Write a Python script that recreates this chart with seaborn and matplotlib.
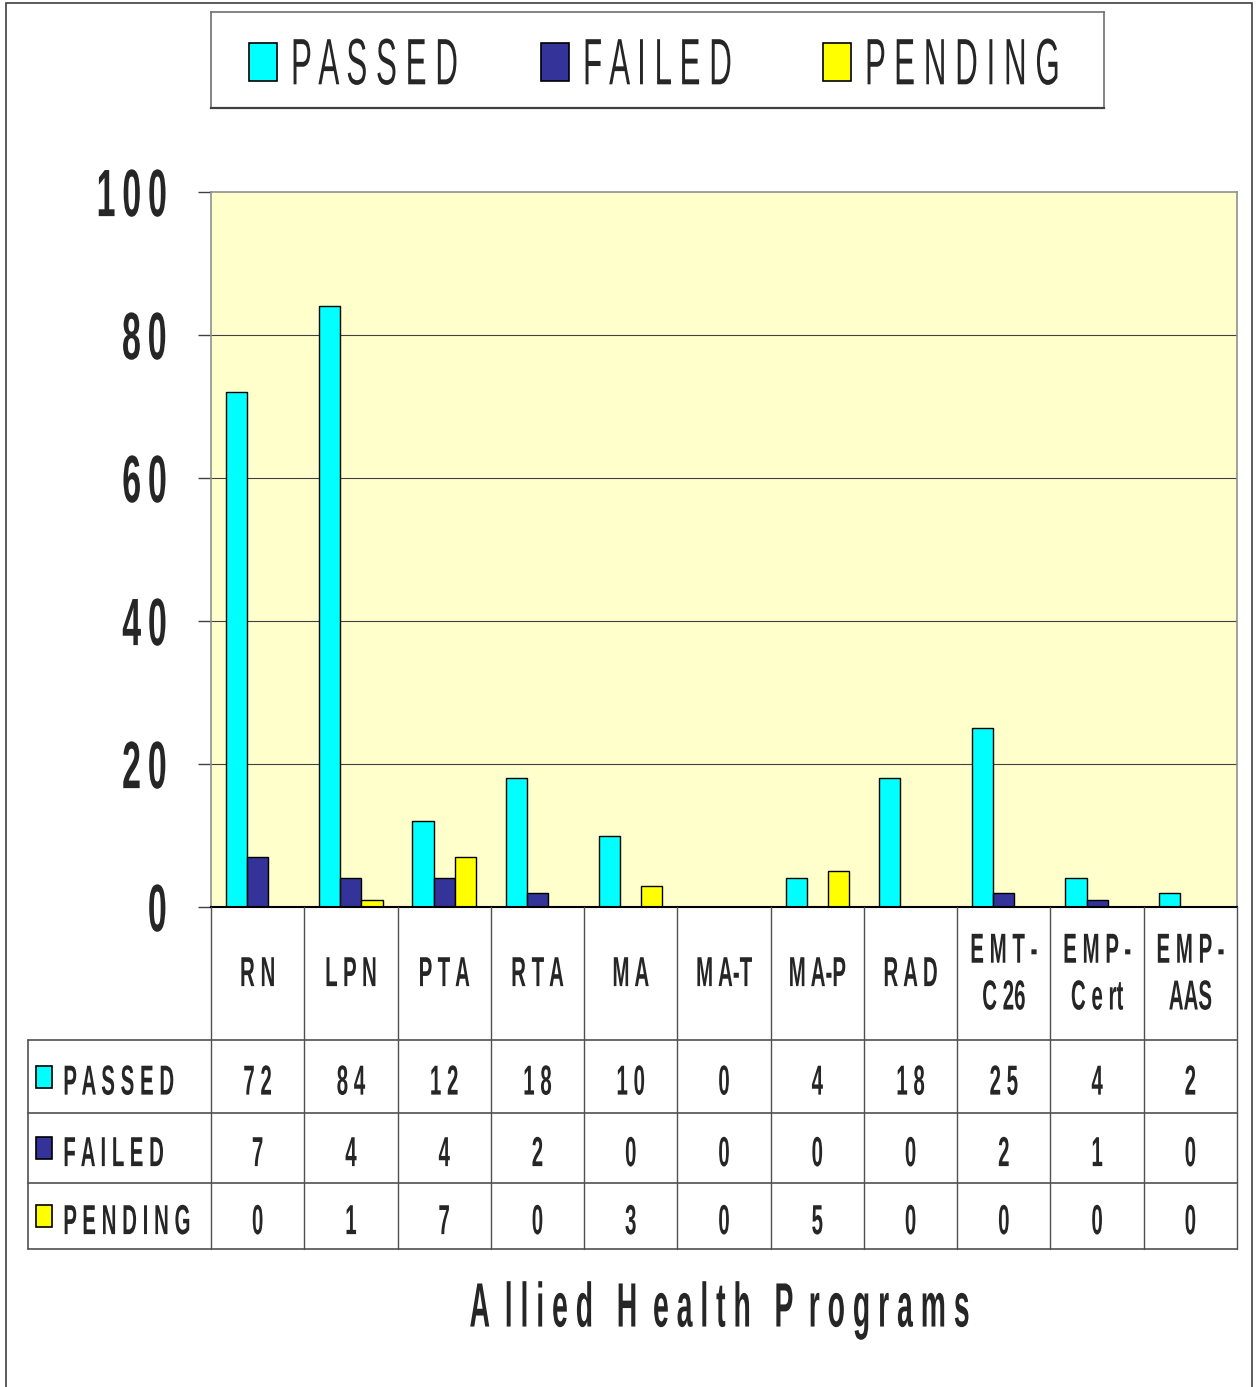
import matplotlib
matplotlib.use('Agg')
import matplotlib.pyplot as plt
import seaborn as sns
import pandas as pd
from matplotlib.patches import Rectangle
from matplotlib.patheffects import AbstractPathEffect
from matplotlib.transforms import Affine2D

# 資料
programs = ['RN', 'LPN', 'PTA', 'RTA', 'MA', 'MA-T', 'MA-P', 'RAD', 'EMT-C26', 'EMP-Cert', 'EMP-AAS']
header_labels = ['R N', 'L P N', 'P T A', 'R T A', 'M A', 'M A-T', 'M A-P', 'R A D',
                 'E M T -\nC 26', 'E M P -\nC e rt', 'E M P -\nAAS']
statuses = ['PASSED', 'FAILED', 'PENDING']
passed = [72, 84, 12, 18, 10, 0, 4, 18, 25, 4, 2]
failed = [7, 4, 4, 2, 0, 0, 0, 0, 2, 1, 0]
pending = [0, 1, 7, 0, 3, 0, 5, 0, 0, 0, 0]
colors = ['#00FFFF', '#333399', '#FFFF00']
yticks = [0, 20, 40, 60, 80, 100]

sns.set_theme(style='white')
plt.rcParams['font.family'] = ['Liberation Sans', 'DejaVu Sans']


class Stretch(AbstractPathEffect):
    # 把字形拉高、壓窄，模仿原圖的窄長字體
    def __init__(self, sx=1.0, sy=1.0, anchor='center'):
        super().__init__()
        self.sx = sx
        self.sy = sy
        self.anchor = anchor

    def draw_path(self, renderer, gc, tpath, affine, rgbFace=None):
        ext = tpath.get_extents()
        x0 = {'left': ext.x0, 'right': ext.x1}.get(self.anchor, (ext.x0 + ext.x1) / 2)
        y0 = 36  # 大寫字母高度的一半（字型單位）
        t = Affine2D().translate(-x0, -y0).scale(self.sx, self.sy).translate(x0, y0) + affine
        renderer.draw_path(gc, tpath, t, rgbFace)


def spaced(s, sep=' '):
    return sep.join(s)


df = pd.DataFrame({
    'program': programs * 3,
    'count': passed + failed + pending,
    'status': [s for s in statuses for _ in programs],
})

W, H = 1257, 1387
fig = plt.figure(figsize=(W / 100, H / 100), dpi=100)


def fx(px):
    return px / W


def fy(py):
    return 1 - py / H


fig.patches.append(Rectangle((fx(6), -0.01), fx(1252) - fx(6), fy(3) + 0.01, transform=fig.transFigure,
                             fill=False, edgecolor='#404040', linewidth=1.2))

ax = fig.add_axes([fx(211), fy(907), fx(1237) - fx(211), fy(192) - fy(907)])
ax.set_facecolor('#FFFFCC')
sns.barplot(data=df, x='program', y='count', hue='status', palette=colors, width=0.68, gap=0,
            edgecolor='black', linewidth=1.0, ax=ax, saturation=1, legend=False)
ax.set_xlim(-0.5, 10.5)
ax.set_ylim(0, 100)
ax.set_yticks(yticks)
ax.set_yticklabels([spaced(str(t), '\u2009') for t in yticks], fontsize=36, fontweight='bold',
                   path_effects=[Stretch(0.68, 1.34, 'right')])
ax.tick_params(axis='y', left=True, length=9.4, width=1, color='#404040', pad=22)
ax.tick_params(axis='x', bottom=False, labelbottom=False)
ax.set_xlabel('')
ax.set_ylabel('')
for t in yticks[1:-1]:
    ax.axhline(t, color='#404040', linewidth=0.8, zorder=0)
for side in ['top', 'right', 'left']:
    ax.spines[side].set_color('#909090')
    ax.spines[side].set_linewidth(1.2)
ax.spines['bottom'].set_color('black')
ax.spines['bottom'].set_linewidth(1.5)

# 圖例
lg = fig.add_axes([fx(211), fy(108), fx(1104) - fx(211), fy(12) - fy(108)])
lg.set_xlim(211, 1104)
lg.set_ylim(108, 12)
lg.set_xticks([])
lg.set_yticks([])
lg.set_facecolor('white')
for side in lg.spines:
    lg.spines[side].set_color('#707070')
    lg.spines[side].set_linewidth(1.2)
lg.spines['bottom'].set_color('#404040')
lg.spines['bottom'].set_linewidth(1.6)
legend_x = [249, 541, 823]
for name, c, x in zip(statuses, colors, legend_x):
    lg.add_patch(Rectangle((x, 43), 28, 38, facecolor=c, edgecolor='black', linewidth=1.2))
    lg.text(x + 42, 64, spaced(name), ha='left', va='center', fontsize=22.6,
            path_effects=[Stretch(1.0, 2.09, 'left')])

# 資料表
tab = fig.add_axes([fx(28), fy(1249), fx(1237) - fx(28), fy(907) - fy(1249)])
left_x = (28 - 211) / ((1237 - 211) / 11) - 0.5
tab.set_xlim(left_x, 10.5)
tab.set_ylim(1249, 907)
tab.axis('off')
row_tops = [1040, 1113, 1183, 1249]
lc = '#505050'
for i in range(12):
    xb = i - 0.5
    tab.plot([xb, xb], [907, 1249], color=lc, linewidth=1.0, clip_on=False)
tab.plot([left_x, left_x], [1040, 1249], color=lc, linewidth=1.2, clip_on=False)
for y in row_tops:
    tab.plot([left_x, 10.5], [y, y], color=lc, linewidth=1.2, clip_on=False)

cell = dict(fontsize=18, fontweight='bold')
for i, lab in enumerate(header_labels):
    tab.text(i, 973, lab, ha='center', va='center', linespacing=2.2,
             path_effects=[Stretch(0.82, 1.68)], **cell)

rows = [passed, failed, pending]
for r, (name, vals, c) in enumerate(zip(statuses, rows, colors)):
    yc = (row_tops[r] + row_tops[r + 1]) / 2
    tab.add_patch(Rectangle((left_x + 0.086, yc - 11), 0.172, 22, facecolor=c, edgecolor='black',
                            linewidth=1.2))
    tab.text(left_x + 0.375, yc + 5, spaced(name), ha='left', va='center',
             path_effects=[Stretch(0.82, 1.68, 'left')], **cell)
    for i, v in enumerate(vals):
        tab.text(i, yc + 5, spaced(str(v)), ha='center', va='center',
                 path_effects=[Stretch(0.82, 1.68)], **cell)

fig.text(fx(719), fy(1308), 'A  l l i e d   H  e a l t h   P  r o g r a m s',
         ha='center', va='center', fontsize=28, fontweight='bold',
         path_effects=[Stretch(0.73, 1.61)])

fig.savefig('out.png', dpi=100, facecolor='white')
